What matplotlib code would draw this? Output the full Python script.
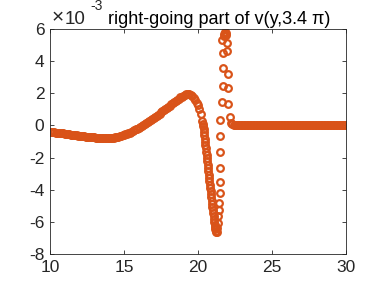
import numpy as np
import matplotlib
matplotlib.use("Agg")
import matplotlib.pyplot as plt

plt.rcParams['font.family'] = ['Liberation Sans', 'DejaVu Sans']
plt.rcParams['axes.unicode_minus'] = False

# values in units of 1e-3
# smooth part, x = 10.0 ... 20.3 step 0.1
smooth_x = np.linspace(10.0, 20.3, 104)
smooth_y = [-0.38, -0.39, -0.41, -0.42, -0.44, -0.45, -0.46, -0.48, -0.49, -0.50,
            -0.52, -0.53, -0.54, -0.55, -0.57, -0.58, -0.59, -0.60, -0.62, -0.63,
            -0.64, -0.65, -0.66, -0.67, -0.69, -0.70, -0.71, -0.72, -0.73, -0.74,
            -0.75, -0.76, -0.77, -0.77, -0.78, -0.78, -0.79, -0.79, -0.79, -0.79,
            -0.78, -0.78, -0.77, -0.76, -0.74, -0.72, -0.70, -0.68, -0.65, -0.62,
            -0.59, -0.55, -0.52, -0.48, -0.44, -0.39, -0.35, -0.30, -0.25, -0.20,
            -0.14, -0.09, -0.03, 0.03, 0.09, 0.15, 0.21, 0.27, 0.34, 0.40,
            0.47, 0.54, 0.60, 0.67, 0.74, 0.81, 0.88, 0.95, 1.02, 1.09,
            1.16, 1.24, 1.31, 1.38, 1.46, 1.53, 1.60, 1.67, 1.74, 1.80,
            1.86, 1.92, 1.96, 1.98, 1.97, 1.92, 1.84, 1.72, 1.56, 1.38,
            1.25, 1.02, 0.72, 0.30]

# steep descent, x = 20.325 ... 21.25 step 0.025
drop_x = np.linspace(20.325, 21.25, 38)
drop_y = [0.12, -0.05, -0.24, -0.42, -0.62, -0.82, -1.02, -1.22, -1.42, -1.63,
          -1.83, -2.04, -2.24, -2.45, -2.65, -2.86, -3.06, -3.27, -3.47, -3.68,
          -3.88, -4.08, -4.28, -4.48, -4.68, -4.88, -5.08, -5.28, -5.47, -5.66,
          -5.84, -6.02, -6.17, -6.32, -6.44, -6.55, -6.61, -6.65]

# sparse spike points
spike_x = [21.27, 21.33, 21.38, 21.42, 21.45, 21.47, 21.47, 21.49, 21.49, 21.49,
           21.52, 21.60, 21.67, 21.71, 21.67, 21.60, 21.74, 21.78, 21.82, 21.86,
           21.90, 21.98, 21.98, 22.05, 22.05, 22.05, 22.16, 22.25]
spike_y = [-6.40, -6.05, -5.65, -5.25, -4.84, -4.21, -3.50, -2.64, -1.63, -0.65,
           0.33, 1.43, 2.47, 3.59, 4.48, 5.31, 5.55, 5.72, 5.80, 5.78,
           5.62, 5.10, 4.63, 3.17, 2.30, 1.36, 0.54, 0.18]

# flat tail, x = 22.3 ... 30.0 step 0.1
flat_x = np.linspace(22.3, 30.0, 78)
flat_y = [0.08, 0.04, 0.02, 0.0, 0.0, 0.0, 0.0, 0.0, 0.0, 0.0, 0.0, 0.0, 0.0,
          0.0, 0.0, 0.0, 0.0, 0.0, 0.0, 0.0, 0.0, 0.0, 0.0, 0.0, 0.0, 0.0,
          0.0, 0.0, 0.0, 0.0, 0.0, 0.0, 0.0, 0.0, 0.0, 0.0, 0.0, 0.0, 0.0,
          0.0, 0.0, 0.0, 0.0, 0.0, 0.0, 0.0, 0.0, 0.0, 0.0, 0.0, 0.0, 0.0,
          0.0, 0.0, 0.0, 0.0, 0.0, 0.0, 0.0, 0.0, 0.0, 0.0, 0.0, 0.0, 0.0,
          0.0, 0.0, 0.0, 0.0, 0.0, 0.0, 0.0, 0.0, 0.0, 0.0, 0.0, 0.0, 0.0]

x_ticks = [10, 15, 20, 25, 30]
y_ticks = [-8, -6, -4, -2, 0, 2, 4, 6]

W, H = 382, 286
fig = plt.figure(figsize=(W / 100, H / 100), dpi=100)
ax = fig.add_axes([50 / W, 1 - 254 / H, 296 / W, 225 / H])

col = '#D95319'
xs = np.concatenate([smooth_x, drop_x, spike_x, flat_x])
ys = np.concatenate([smooth_y, drop_y, spike_y, flat_y])
ax.plot(xs, ys, 'o', mfc='none', mec=col, ms=4.8, mew=1.6)

ax.set_xlim(10, 30)
ax.set_ylim(-8, 6)
ax.set_xticks(x_ticks)
ax.set_yticks(y_ticks)
ax.tick_params(direction='in', length=3, width=0.6, top=True, right=True,
               labelsize=12.5, colors='#262626', pad=4)
for s in ax.spines.values():
    s.set_color('#262626')
    s.set_linewidth(0.6)

# exponent label and title
fig.text(52 / W, 1 - 23.5 / H, '×', fontsize=15, color='#262626', va='baseline')
fig.text(65 / W, 1 - 23.5 / H, '10', fontsize=13.5, color='#262626', va='baseline')
fig.text(90 / W, 1 - 10 / H, '-3', fontsize=10, color='#262626', va='baseline')
fig.text(108 / W, 1 - 23.5 / H, 'right-going part of v(y,3.4 π)', fontsize=13,
         color='#000000', ha='left', va='baseline')

fig.savefig('out.png', dpi=100)
